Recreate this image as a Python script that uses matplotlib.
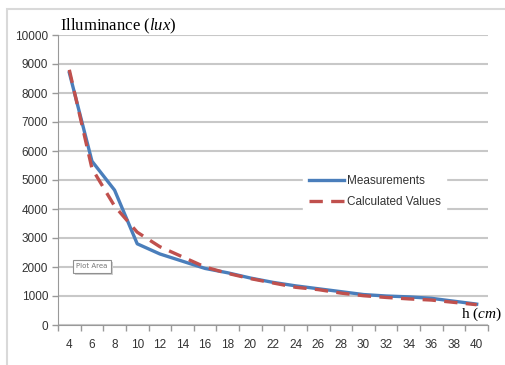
import matplotlib
matplotlib.use("Agg")
import matplotlib.pyplot as plt
from matplotlib.patches import Rectangle

plt.rcParams["mathtext.fontset"] = "custom"
plt.rcParams["mathtext.it"] = "Liberation Serif:italic"
plt.rcParams["mathtext.rm"] = "Liberation Serif"

heights = [4, 6, 8, 10, 12, 14, 16, 18, 20, 22, 24, 26, 28, 30, 32, 34, 36, 38, 40]
measurements = [8700, 5650, 4650, 2800, 2450, 2200, 1950, 1800, 1620, 1470, 1350, 1250, 1150, 1050, 1000, 970, 920, 820, 720]
calculated = [8800, 5400, 4100, 3200, 2700, 2350, 2000, 1780, 1600, 1450, 1300, 1220, 1100, 1010, 950, 900, 860, 780, 700]
y_ticks = [0, 1000, 2000, 3000, 4000, 5000, 6000, 7000, 8000, 9000, 10000]

W, H = 505, 365
fig = plt.figure(figsize=(W / 100, H / 100), dpi=100)
fig.patch.set_facecolor("white")

# outer chart border
fig.patches.append(Rectangle((7 / W, -0.02), 1.2, 1 - 9 / H + 0.02, transform=fig.transFigure,
                             fill=False, edgecolor="#d9d9d9", linewidth=1.5))

ax = fig.add_axes([58 / W, 1 - 325 / H, (488 - 58) / W, (325 - 35) / H])
x = list(range(len(heights)))
ax.plot(x, measurements, color="#4a7ebb", linewidth=2.4, label="Measurements", zorder=3)
ax.plot(x, calculated, color="#c0504d", linewidth=2.4, linestyle=(0, (4, 2.5)),
        label="Calculated Values", zorder=4)

ax.set_xlim(-0.5, len(heights) - 0.5)
ax.set_ylim(0, 10000)
ax.set_yticks(y_ticks)
ax.set_yticklabels([str(v) for v in y_ticks], fontsize=8.5, color="#333333", family="Liberation Sans")
ax.set_xticks(x)
ax.set_xticklabels([str(h) for h in heights], fontsize=8.5, color="#333333", family="Liberation Sans")
ax.tick_params(axis="x", length=0, pad=10)
ax.set_xticks([i - 0.5 for i in range(len(heights) + 1)], minor=True)
ax.tick_params(axis="x", which="minor", length=4, color="#999999", width=1)
ax.tick_params(axis="y", length=4, color="#999999", width=1, pad=3)

ax.grid(axis="y", color="#c8c8c8", linewidth=1.5)
ax.set_axisbelow(True)
for s in ["top", "right"]:
    ax.spines[s].set_visible(False)
ax.spines["left"].set_color("#999999")
ax.spines["bottom"].set_color("#999999")

leg = ax.legend(loc="upper left", bbox_to_anchor=((297 - 58) / 430, (325 - 163) / 290),
                frameon=True, prop={"family": "Liberation Sans", "size": 8.5},
                handlelength=3, handletextpad=0.2, labelspacing=0.8, borderpad=0.5,
                fancybox=False, edgecolor="white", framealpha=1)
for t in leg.get_texts():
    t.set_color("#333333")

fig.text(60 / W, 1 - 26 / H, r"Illuminance ($\mathit{lux}$)", family="Liberation Serif",
         fontsize=12, va="center", ha="left")
fig.text(461 / W, 1 - 314 / H, r"h $\mathit{(cm)}$", family="Liberation Serif",
         fontsize=11, va="center", ha="left")

# "Plot Area" tooltip
fig.patches.append(Rectangle((75 / W, 1 - 275 / H), 38 / W, 13 / H, transform=fig.transFigure,
                             facecolor="#d0d0d0", edgecolor="none", zorder=5))
fig.patches.append(Rectangle((73 / W, 1 - 273 / H), 38 / W, 13 / H, transform=fig.transFigure,
                             facecolor="white", edgecolor="#909090", linewidth=0.8, zorder=6))
fig.text(92 / W, 1 - 266.5 / H, "Plot Area", fontsize=5, color="#777777", ha="center", va="center",
         family="Liberation Sans Narrow", zorder=7)

fig.savefig("out.png", dpi=100)
